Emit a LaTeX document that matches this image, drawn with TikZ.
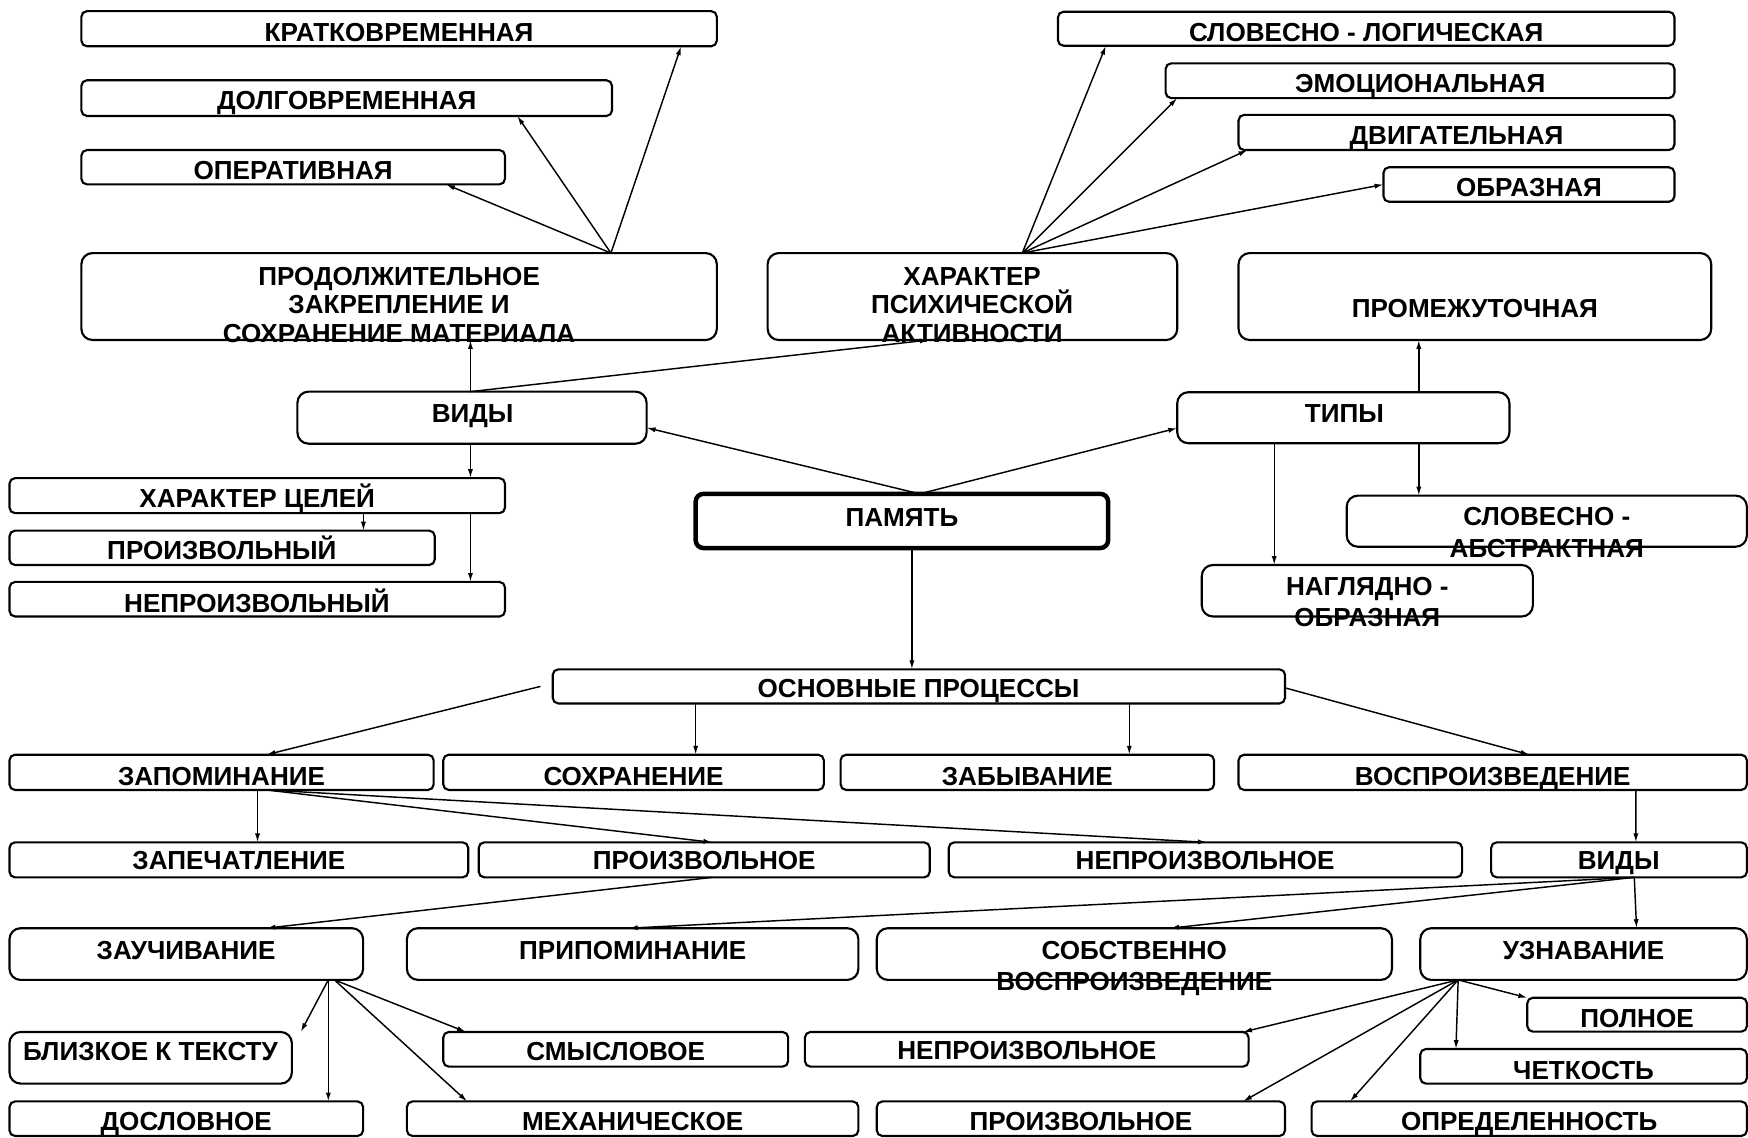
\documentclass[tikz,border=0pt]{standalone}
\usepackage{fontspec}
\setmainfont{Liberation Sans}
\usetikzlibrary{arrows.meta}

% box: name, x1, y1, x2, y2 (top-left / bottom-right corners)
\newcommand\bx[6][]{%
  \node[box,#1,minimum width={#5-#3},minimum height={#6-#4}] (#2)
    at ({(#3+#5)/2},{(#4+#6)/2}) {};}
% label: name, x, baseline y of the last line, text
\newcommand\tx[5][]{%
  \node[lbl,#1] (#2) at (#3,#4) {#5};}

\tikzset{
  box/.style={draw, line width=1.9pt, rounded corners=5pt, inner sep=0pt, outer sep=0pt},
  bigbox/.style={rounded corners=10pt},
  mainbox/.style={line width=4pt, rounded corners=7pt},
  lbl/.style={anchor=base, inner sep=0pt, align=center,
              font=\fontsize{23.4}{25.4}\selectfont\bfseries},
  arr/.style={-{Latex[length=8pt,width=4.6pt]}, line width=1.3pt},
}

\begin{document}
\begin{tikzpicture}[x=1pt,y=-1pt]
\useasboundingbox (0,0) rectangle (1568,1020);

% ---- boxes ----
\bx{kratk}{73}{10}{643}{41.5}
\bx{dolg}{73}{72}{549}{104}
\bx{oper}{73}{134.6}{453}{165.4}
\bx[bigbox]{prod}{73}{227}{643}{305}
\bx[bigbox]{xar}{688.6}{227}{1056}{305}
\bx[bigbox]{prom}{1111}{227}{1535}{305}
\bx{slovlog}{949}{10.5}{1502}{41}
\bx{emoc}{1045.6}{56.8}{1502}{88}
\bx{dvig}{1111}{103}{1502}{134.6}
\bx{obraz}{1241}{150}{1502}{181}
\bx[bigbox]{vidy}{266.8}{351.3}{580}{398}
\bx[bigbox]{tipy}{1056}{351.8}{1354}{397.6}
\bx[mainbox]{pam}{624}{443}{994}{491.6}
\bx{xarcel}{8.5}{428.9}{453}{460.3}
\bx{proizvy}{8.5}{476}{390}{506.8}
\bx{neproizvy}{8.5}{522}{453}{553}
\bx[bigbox]{slovabs}{1208}{444.6}{1567}{490.4}
\bx[bigbox]{nagl}{1078}{506.8}{1375}{553}
\bx{osn}{495.8}{600.4}{1152.7}{631}
\bx{zapom}{8.5}{677}{389}{708.6}
\bx{sohr}{397.6}{677}{739}{708.6}
\bx{zab}{754}{677}{1089}{708.6}
\bx{vospr}{1111}{677}{1567}{708.6}
\bx{zapech}{8.5}{755.6}{420}{787}
\bx{proizvo}{429.4}{755.6}{834}{787}
\bx{neproizvo}{851}{755.6}{1311.5}{787}
\bx{vidyb}{1337.6}{755.6}{1567}{787}
\bx[bigbox]{zauch}{8.5}{832.6}{325.7}{879}
\bx[bigbox]{pripom}{365}{832.6}{770}{879}
\bx[bigbox]{sobstv}{786.5}{832.6}{1248.6}{879}
\bx[bigbox]{uznav}{1274}{832.6}{1567}{879}
\bx[bigbox]{blizk}{8.5}{925.7}{261.8}{972}
\bx{smysl}{397.6}{925.7}{707}{956.8}
\bx{neprb}{722}{925.7}{1120}{956.8}
\bx{polnoe}{1370}{895}{1567}{925.4}
\bx{chetk}{1274}{941}{1567}{972}
\bx{doslov}{8.5}{988}{325.7}{1019}
\bx{mehan}{365}{988}{770}{1019}
\bx{proizb}{786.5}{988}{1152.7}{1019}
\bx{opred}{1176.5}{988}{1567}{1019}

% ---- labels ----
\tx{kratk-t}{358}{37.3}{КРАТКОВРЕМЕННАЯ}
\tx{dolg-t}{311}{98.3}{ДОЛГОВРЕМЕННАЯ}
\tx{oper-t}{263}{160.8}{ОПЕРАТИВНАЯ}
\tx{prod-t}{358}{306.8}{ПРОДОЛЖИТЕЛЬНОЕ\\ЗАКРЕПЛЕНИЕ И\\СОХРАНЕНИЕ МАТЕРИАЛА}
\tx{xar-t}{872}{306.8}{ХАРАКТЕР\\ПСИХИЧЕСКОЙ\\АКТИВНОСТИ}
\tx{prom-t}{1323}{285}{ПРОМЕЖУТОЧНАЯ}
\tx{slovlog-t}{1225.5}{37.3}{СЛОВЕСНО - ЛОГИЧЕСКАЯ}
\tx{emoc-t}{1274}{83}{ЭМОЦИОНАЛЬНАЯ}
\tx{dvig-t}{1306.5}{130}{ДВИГАТЕЛЬНАЯ}
\tx{obraz-t}{1371.5}{176.3}{ОБРАЗНАЯ}
\tx{vidy-t}{424}{379}{ВИДЫ}
\tx{tipy-t}{1206}{379}{ТИПЫ}
\tx{pam-t}{809}{472}{ПАМЯТЬ}
\tx{xarcel-t}{230.7}{455.5}{ХАРАКТЕР ЦЕЛЕЙ}
\tx{proizvy-t}{199}{502.3}{ПРОИЗВОЛЬНЫЙ}
\tx{neproizvy-t}{230.5}{549}{НЕПРОИЗВОЛЬНЫЙ}
\tx[font=\fontsize{23.4}{28.3}\selectfont\bfseries]{slovabs-t}{1387.5}{500.1}{СЛОВЕСНО -\\АБСТРАКТНАЯ}
\tx[font=\fontsize{23.4}{27.2}\selectfont\bfseries]{nagl-t}{1226.5}{561.8}{НАГЛЯДНО -\\ОБРАЗНАЯ}
\tx{osn-t}{824}{625.8}{ОСНОВНЫЕ ПРОЦЕССЫ}
\tx{zapom-t}{198.7}{704.3}{ЗАПОМИНАНИЕ}
\tx{sohr-t}{568.3}{704.3}{СОХРАНЕНИЕ}
\tx{zab-t}{921.5}{704.3}{ЗАБЫВАНИЕ}
\tx{vospr-t}{1339}{704.3}{ВОСПРОИЗВЕДЕНИЕ}
\tx{zapech-t}{214.3}{780.3}{ЗАПЕЧАТЛЕНИЕ}
\tx{proizvo-t}{631.7}{780.3}{ПРОИЗВОЛЬНОЕ}
\tx{neproizvo-t}{1081}{780.3}{НЕПРОИЗВОЛЬНОЕ}
\tx{vidyb-t}{1452}{780.3}{ВИДЫ}
\tx{zauch-t}{167}{860.3}{ЗАУЧИВАНИЕ}
\tx{pripom-t}{567.5}{860.3}{ПРИПОМИНАНИЕ}
\tx[font=\fontsize{23.4}{28.6}\selectfont\bfseries]{sobstv-t}{1017.5}{888.9}{СОБСТВЕННО\\ВОСПРОИЗВЕДЕНИЕ}
\tx{uznav-t}{1420.5}{860.3}{УЗНАВАНИЕ}
\tx{blizk-t}{135}{951.7}{БЛИЗКОЕ К ТЕКСТУ}
\tx{smysl-t}{552.3}{951.7}{СМЫСЛОВОЕ}
\tx{neprb-t}{921}{950.2}{НЕПРОИЗВОЛЬНОЕ}
\tx{polnoe-t}{1468.5}{921.8}{ПОЛНОЕ}
\tx{chetk-t}{1420.5}{968.7}{ЧЕТКОСТЬ}
\tx{doslov-t}{167}{1014.3}{ДОСЛОВНОЕ}
\tx{mehan-t}{567.5}{1014.3}{МЕХАНИЧЕСКОЕ}
\tx{proizb-t}{969.6}{1014.3}{ПРОИЗВОЛЬНОЕ}
\tx{opred-t}{1371.7}{1014.3}{ОПРЕДЕЛЕННОСТЬ}

% ---- connectors ----
% kinds of storage duration
\draw[arr] ([xshift=475]prod.north west) -- ([xshift=327]oper.south west);
\draw[arr] ([xshift=475]prod.north west) -- ([xshift=391]dolg.south west);
\draw[arr] ([xshift=475]prod.north west) -- ([xshift=538]kratk.south west);
% kinds by mental activity
\draw[arr] ([xshift=228.4]xar.north west) -- ([xshift=43]slovlog.south west);
\draw[arr] ([xshift=228.4]xar.north west) -- ([xshift=10.4]emoc.south west);
\draw[arr] ([xshift=228.4]xar.north west) -- ([xshift=8]dvig.south west);
\draw[arr] ([xshift=228.4]xar.north west) -- (obraz.west);
% kinds
\draw[arr] ([xshift=155.2]vidy.north west) -- ([xshift=349]prod.south west);
\draw[arr] ([xshift=155.2]vidy.north west) -- ([xshift=144.4]xar.south west);
\draw[arr] ([xshift=201]pam.north west) -- ([yshift=-9]vidy.east);
\draw[arr] ([xshift=201]pam.north west) -- ([yshift=-9.3]tipy.west);
% types
\draw[arr] ([xshift=216.7]tipy.north west) -- ([xshift=161.7]prom.south west);
\draw[arr] ([xshift=87]tipy.south west) -- ([xshift=65]nagl.north west);
\draw[arr] ([xshift=216.7]tipy.south west) -- ([xshift=64.7]slovabs.north west);
% goals
\draw[arr] ([xshift=155.2]vidy.south west) -- ([xshift=413.5]xarcel.north west);
\draw[arr] ([xshift=317.5]xarcel.south west) -- ([xshift=317.5]proizvy.north west);
\draw[arr] ([xshift=413.5]xarcel.south west) -- ([xshift=413.5]neproizvy.north west);
% main processes
\draw[arr] ([xshift=194]pam.south west) -- ([xshift=322.2]osn.north west);
\draw[arr] ([xshift=-11]osn.west) -- ([xshift=230.5]zapom.north west);
\draw[arr] ([xshift=128.2]osn.south west) -- ([xshift=226.4]sohr.north west);
\draw[arr] ([xshift=517.2]osn.south west) -- ([xshift=259]zab.north west);
\draw[arr] ([yshift=-1.3]osn.east) -- ([xshift=261]vospr.north west);
% memorising
\draw[arr] ([xshift=222.5]zapom.south west) -- ([xshift=222.5]zapech.north west);
\draw[arr] ([xshift=230.5]zapom.south west) -- ([xshift=209.6]proizvo.north west);
\draw[arr] ([xshift=230.5]zapom.south west) -- ([xshift=231.5]neproizvo.north west);
\draw[arr] ([xshift=209.6]proizvo.south west) -- ([xshift=230.5]zauch.north west);
% reproduction
\draw[arr] ([xshift=356.4]vospr.south west) -- ([xshift=129.8]vidyb.north west);
\draw[arr] ([xshift=128.4]vidyb.south west) -- ([xshift=199]pripom.north west);
\draw[arr] ([xshift=128.4]vidyb.south west) -- ([xshift=263.1]sobstv.north west);
\draw[arr] ([xshift=128.4]vidyb.south west) -- ([xshift=194]uznav.north west);
% learning by heart
\draw[arr] ([xshift=286]zauch.south west) -- ([xshift=8]blizk.north east);
\draw[arr] ([xshift=286]zauch.south west) -- ([xshift=286]doslov.north west);
\draw[arr] ([xshift=291.5]zauch.south west) -- ([xshift=20.4]smysl.north west);
\draw[arr] ([xshift=291.5]zauch.south west) -- ([xshift=54]mehan.north west);
% recognition
\draw[arr] ([xshift=34]uznav.south west) -- (polnoe.north west);
\draw[arr] ([xshift=34]uznav.south west) -- ([xshift=32]chetk.north west);
\draw[arr] ([xshift=34]uznav.south west) -- ([xshift=393]neprb.north west);
\draw[arr] ([xshift=34]uznav.south west) -- ([xshift=328.5]proizb.north west);
\draw[arr] ([xshift=34]uznav.south west) -- ([xshift=34.5]opred.north west);
\end{tikzpicture}
\end{document}
